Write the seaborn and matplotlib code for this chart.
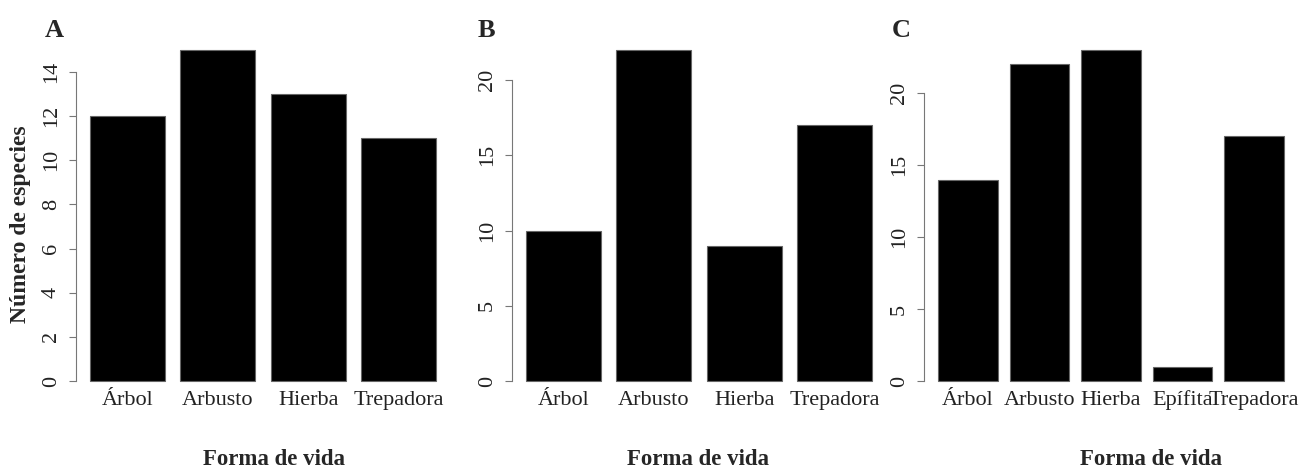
import numpy as np
import matplotlib.pyplot as plt
import seaborn as sns

# datos de cada panel
formas_a = ["Árbol", "Arbusto", "Hierba", "Trepadora"]
especies_a = [12, 15, 13, 11]

formas_b = ["Árbol", "Arbusto", "Hierba", "Trepadora"]
especies_b = [10, 22, 9, 17]

formas_c = ["Árbol", "Arbusto", "Hierba", "Epífita", "Trepadora"]
especies_c = [14, 22, 23, 1, 17]

letras = ["A", "B", "C"]

sns.set_style("white")
plt.rcParams["font.family"] = ["Liberation Serif", "DejaVu Serif"]

W, H = 1313, 465
fig = plt.figure(figsize=(W / 100, H / 100), dpi=100)


def panel(formas, valores, bar_l, bar_r, paso, letra, letra_x, xlab_x):
    n = len(formas)
    bw = 1 / 1.2  # ancho de barra como en barplot de R (space = 0.2)
    u_l, u_r = -bw / 2, n - 1 + bw / 2
    ext = 0.04 * (u_r - u_l)
    px_u = (bar_r - bar_l) / (u_r - u_l)
    left = bar_l - ext * px_u
    right = bar_r + ext * px_u
    bottom, top = 381, 50
    ax = fig.add_axes([left / W, 1 - bottom / H, (right - left) / W, (bottom - top) / H])

    sns.barplot(x=formas, y=valores, color="black", saturation=1, width=bw,
                edgecolor="#666666", linewidth=0.8, ax=ax)
    for p in ax.patches:
        p.set_clip_on(False)

    ax.set_xlim(u_l - ext, u_r + ext)
    ax.set_ylim(0, max(valores))
    ticks = np.arange(0, max(valores) + 0.01, paso)
    ax.set_yticks(ticks, [str(int(t)) for t in ticks])
    ax.set_xticks(range(n), formas, va="baseline")

    for s in ["top", "right", "bottom"]:
        ax.spines[s].set_visible(False)
    ax.spines["left"].set_bounds(0, ticks[-1])
    ax.spines["left"].set_color("#777777")
    ax.spines["left"].set_linewidth(0.8)

    ax.tick_params(axis="y", left=True, length=5, width=0.8, color="#777777",
                   pad=6, labelsize=16, labelrotation=90, labelcolor="#222222")
    ax.tick_params(axis="x", length=0, pad=17, labelsize=16, labelcolor="#222222")
    for lab in ax.get_yticklabels():
        lab.set_va("center")
    ax.set_xlabel("")
    ax.set_ylabel("")

    fig.text(letra_x / W, 1 - 37 / H, letra, fontsize=19, fontweight="bold", va="baseline")
    fig.text(xlab_x / W, 1 - 465 / H, "Forma de vida", fontsize=16.5, fontweight="bold",
             ha="center", va="baseline")
    return ax


panel(formas_a, especies_a, 90, 436, 2, letras[0], 45, 274)
panel(formas_b, especies_b, 526, 872, 5, letras[1], 478, 698)
panel(formas_c, especies_c, 938, 1284, 5, letras[2], 892, 1151)

fig.text(21 / W, 1 - 224 / H, "Número de especies", rotation=90, ha="center", va="center",
         fontsize=17, fontweight="bold")

fig.savefig("out.png", dpi=100)
